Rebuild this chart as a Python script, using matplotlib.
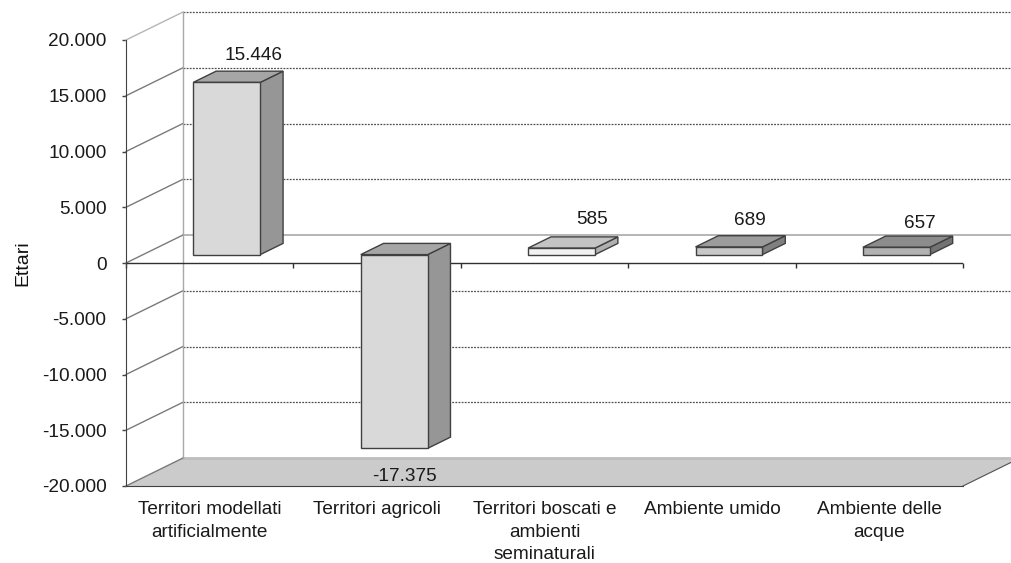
import matplotlib.pyplot as plt
import numpy as np

plt.rcParams['font.family'] = ['Liberation Sans', 'DejaVu Sans']

categorie = ['Territori modellati\nartificialmente', 'Territori agricoli',
             'Territori boscati e\nambienti\nseminaturali', 'Ambiente umido',
             'Ambiente delle\nacque']
valori = [15446, -17375, 585, 689, 657]
etichette = ['15.446', '-17.375', '585', '689', '657']
y_ticks = [-20000, -15000, -10000, -5000, 0, 5000, 10000, 15000, 20000]
y_labels = ['-20.000', '-15.000', '-10.000', '-5.000', '0', '5.000', '10.000', '15.000', '20.000']

# colori delle barre: fronte, sopra, lato
col_front = ['#d9d9d9', '#d9d9d9', '#f2f2f2', '#c8c8c8', '#b2b2b2']
col_top = ['#a6a6a6', '#a6a6a6', '#c4c4c4', '#9c9c9c', '#8c8c8c']
col_side = ['#969696', '#969696', '#b0b0b0', '#808080', '#737373']
# spostamento delle etichette rispetto alla barra (pixel)
label_dx = [4, 10, 8, -2, 1]
label_dy = [16, -28, 17, 15, 13]

DX = 57 / 167.4  # profondita in unita di categoria
DY = 28 / 11.15 * 1000  # profondita in unita di valore
W, H = 1012, 563


def proj(x, y, z):
    return x + z * DX, y + z * DY


def poly(ax, pts, fc, zorder, ec='#404040', lw=1.0):
    ax.fill([p[0] for p in pts], [p[1] for p in pts], fc=fc, ec=ec, lw=lw,
            zorder=zorder, clip_on=False)


fig = plt.figure(figsize=(W / 100, H / 100), dpi=100)
ax = fig.add_axes([126 / W, 1 - 486 / H, (963 - 126) / W, (486 - 40) / H])
ax.set_xlim(0, 5)
ax.set_ylim(-20000, 20000)
for s in ['top', 'right']:
    ax.spines[s].set_visible(False)
ax.spines['bottom'].set_color('#404040')
ax.spines['left'].set_color('#404040')
ax.spines['left'].set_zorder(6)
ax.spines['bottom'].set_zorder(6)

# pavimento
poly(ax, [proj(0, -20000, 0), proj(5, -20000, 0), proj(5, -20000, 1), proj(0, -20000, 1)],
     '#cbcbcb', 1, ec='none', lw=0)

# griglia sul fondo e sul lato
for v in y_ticks:
    x0, y0 = proj(0, v, 1)
    x1, y1 = proj(5.3, v, 1)
    if v == 0:
        ax.plot([x0, x1], [y0, y0], color='#b0b0b0', lw=1.3, zorder=2, clip_on=False)
    elif v > -20000:
        ax.plot([x0, x1], [y0, y0], color='#505050', lw=0.9, ls=(0, (1.5, 1)), zorder=2, clip_on=False)
    else:
        ax.plot([x0, proj(5, v, 1)[0]], [y0, y0], color='#bdbdbd', lw=2.0, zorder=2, clip_on=False)
    ax.plot([0, x0], [v, y0], color='#7a7a7a' if v < 20000 else '#b5b5b5', lw=1.0, zorder=2, clip_on=False)
bx, by0 = proj(0, -20000, 1)
ax.plot([bx, bx], [by0, by0 + 40000], color='#a8a8a8', lw=1.0, zorder=2, clip_on=False)
ax.plot([5, 5 + DX], [-20000, -20000 + DY], color='#505050', lw=0.8, zorder=2, clip_on=False)

# barre 3d
bw = 0.4
z0, z1 = 0.3, 0.7
for i, v in enumerate(valori):
    xl, xr = i + 0.3, i + 0.3 + bw
    top = max(v, 0)
    bot = min(v, 0)
    poly(ax, [proj(xr, bot, z0), proj(xr, bot, z1), proj(xr, top, z1), proj(xr, top, z0)], col_side[i], 4)
    poly(ax, [proj(xl, top, z0), proj(xr, top, z0), proj(xr, top, z1), proj(xl, top, z1)], col_top[i], 4)
    poly(ax, [proj(xl, bot, z0), proj(xr, bot, z0), proj(xr, top, z0), proj(xl, top, z0)], col_front[i], 5)

    cx, cy = proj(i + 0.5, v, z1 if v > 0 else z0)
    ax.annotate(etichette[i], (cx, cy), xytext=(label_dx[i], label_dy[i]),
                textcoords='offset pixels', ha='center', va='center', fontsize=13.7,
                color='#1a1a1a', zorder=7, annotation_clip=False)

# asse x allo zero
ax.plot([0, 5], [0, 0], color='#303030', lw=1.0, zorder=3)
ax.vlines(np.arange(0, 6), -450, 0, color='#303030', lw=1.0, zorder=3, clip_on=False)

ax.set_xticks(np.arange(5) + 0.5)
ax.set_xticklabels(categorie, fontsize=13.7, color='#1a1a1a', linespacing=1.42, va='top')
ax.tick_params(axis='x', length=0, pad=11)
ax.set_yticks(y_ticks)
ax.set_yticklabels(y_labels, fontsize=13.7, color='#1a1a1a')
ax.tick_params(axis='y', length=3, width=1, color='#404040', pad=11)
ax.patch.set_visible(False)

fig.text(23 / W, 1 - 263 / H, 'Ettari', rotation=90, ha='center', va='center', fontsize=14, color='#111111')

fig.savefig('out.png', dpi=100)
